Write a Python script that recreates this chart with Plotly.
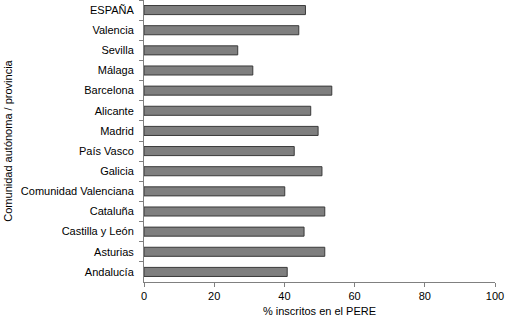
import plotly.graph_objects as go

categories = ["ESPAÑA", "Valencia", "Sevilla", "Málaga", "Barcelona", "Alicante", "Madrid",
              "País Vasco", "Galicia", "Comunidad Valenciana", "Cataluña", "Castilla y León",
              "Asturias", "Andalucía"]
values = [46.0, 44.1, 26.7, 31.0, 53.5, 47.5, 49.6, 42.8, 50.7, 40.1, 51.5, 45.6, 51.5, 40.8]
x_ticks = [0, 20, 40, 60, 80, 100]

fig = go.Figure(go.Bar(
    y=categories, x=values, orientation="h",
    marker=dict(color="#7f7f7f", line=dict(color="#3a3a3a", width=1)),
    width=0.45,
))

font = dict(family="Liberation Sans, Arial, sans-serif", size=11, color="#000000")
fig.update_layout(
    width=507, height=318,
    margin=dict(l=144, r=12, t=0, b=36),
    paper_bgcolor="white", plot_bgcolor="white",
    font=font, showlegend=False,
    xaxis=dict(range=[0, 100], tickvals=x_ticks, showgrid=False, zeroline=False,
               showline=True, linecolor="#808080", linewidth=1,
               ticks="outside", ticklen=4, tickcolor="#808080",
               title=dict(text="% inscritos en el PERE", font=font, standoff=6)),
    yaxis=dict(categoryorder="array", categoryarray=categories, autorange="reversed",
               showgrid=False, zeroline=False, showline=True, linecolor="#808080", linewidth=1,
               ticks="outside", ticklen=4, tickcolor="#808080", tickson="boundaries",
               ticklabelstandoff=7,
               title=dict(text="Comunidad autónoma / provincia", font=font, standoff=6)),
)
fig.write_html("out.html", config={"displayModeBar": False},
               post_script="document.body.style.margin='0';document.body.style.overflow='hidden';")
